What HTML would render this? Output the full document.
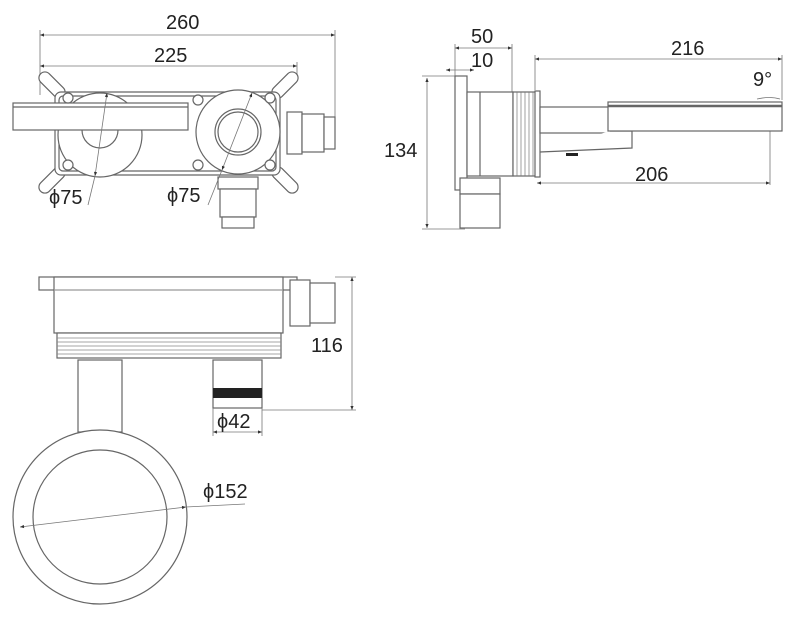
<!DOCTYPE html>
<html><head><style>
html,body{margin:0;padding:0;background:#fff;}
svg{display:block}
text{font-family:"Liberation Sans",sans-serif;font-size:20px;fill:#222;}
</style></head><body>
<svg width="800" height="630" viewBox="0 0 800 630" xmlns="http://www.w3.org/2000/svg">
<defs>
<marker id="a" viewBox="0 0 10 10" refX="10" refY="5" markerWidth="7" markerHeight="5" orient="auto-start-reverse"><path d="M0,1 L10,5 L0,9z" fill="#333"/></marker>
</defs>
<g fill="none" stroke="#777" stroke-width="0.8">
<line x1="40" y1="35" x2="335" y2="35" marker-start="url(#a)" marker-end="url(#a)"/>
<line x1="40" y1="66" x2="297" y2="66" marker-start="url(#a)" marker-end="url(#a)"/>
<line x1="40" y1="30" x2="40" y2="95"/><line x1="335" y1="30" x2="335" y2="145"/><line x1="297" y1="62" x2="297" y2="80"/>
</g>
<g fill="#fff" stroke="#666" stroke-width="1.2">
<g transform="translate(52,85) rotate(45)"><rect x="-16" y="-6" width="32" height="12" rx="6"/></g>
<g transform="translate(52,180) rotate(-45)"><rect x="-16" y="-6" width="32" height="12" rx="6"/></g>
<g transform="translate(285,85) rotate(-45)"><rect x="-16" y="-6" width="32" height="12" rx="6"/></g>
<g transform="translate(285,180) rotate(45)"><rect x="-16" y="-6" width="32" height="12" rx="6"/></g>
<rect x="55" y="92" width="225" height="83" rx="6"/>
<rect x="59" y="96" width="217" height="75" rx="4"/>
<circle cx="100" cy="135" r="42"/>
<path d="M82,130 a18,18 0 0 0 36,0"/>
<rect x="13" y="103" width="175" height="27"/>
<line x1="13" y1="107" x2="188" y2="107"/>
<circle cx="238" cy="132" r="42"/>
<circle cx="238" cy="132" r="23"/><circle cx="238" cy="132" r="20"/>
<circle cx="68" cy="98" r="5"/><circle cx="68" cy="165" r="5"/>
<circle cx="198" cy="100" r="5"/><circle cx="198" cy="165" r="5"/>
<circle cx="270" cy="98" r="5"/><circle cx="270" cy="165" r="5"/>
<rect x="287" y="112" width="15" height="42"/><rect x="302" y="114" width="22" height="38"/><rect x="324" y="117" width="11" height="32"/>
<rect x="218" y="177" width="40" height="12"/><rect x="220" y="189" width="36" height="28"/><rect x="222" y="217" width="32" height="11"/>
</g>
<g stroke="#777" stroke-width="0.8" fill="none">
<line x1="107" y1="93" x2="95" y2="176" marker-start="url(#a)" marker-end="url(#a)"/>
<line x1="95" y1="176" x2="88" y2="205"/>
<line x1="252" y1="93" x2="222" y2="170" marker-start="url(#a)" marker-end="url(#a)"/>
<line x1="222" y1="170" x2="208" y2="205"/>
</g>
<text x="49" y="204">ϕ75</text><text x="167" y="202">ϕ75</text>
<text x="166" y="29">260</text><text x="154" y="62">225</text>

<g fill="none" stroke="#777" stroke-width="0.8">
<line x1="455" y1="48" x2="512" y2="48" marker-start="url(#a)" marker-end="url(#a)"/>
<line x1="446" y1="70" x2="474" y2="70" marker-start="url(#a)" marker-end="url(#a)"/>
<line x1="455" y1="44" x2="455" y2="76"/><line x1="512" y1="44" x2="512" y2="92"/>
<line x1="535" y1="59" x2="782" y2="59" marker-start="url(#a)" marker-end="url(#a)"/>
<line x1="535" y1="55" x2="535" y2="90"/><line x1="782" y1="55" x2="782" y2="100"/>
<line x1="427" y1="78" x2="427" y2="228" marker-start="url(#a)" marker-end="url(#a)"/>
<line x1="422" y1="76" x2="455" y2="76"/><line x1="422" y1="229" x2="465" y2="229"/>
<line x1="537" y1="183" x2="770" y2="183" marker-start="url(#a)" marker-end="url(#a)"/>
<line x1="770" y1="112" x2="770" y2="185"/>
<path d="M757,99 Q770,96 780,99"/>
</g>
<g fill="#fff" stroke="#666" stroke-width="1.2">
<rect x="455" y="76" width="12" height="114"/>
<rect x="467" y="92" width="46" height="84"/>
<line x1="480" y1="92" x2="480" y2="176"/>
<rect x="513" y="92" width="24" height="84"/>
<rect x="535" y="91" width="5" height="86"/>
<rect x="540" y="107" width="70" height="26"/>
<path d="M610,131 L632,131 L632,148 L540,152"/>
<rect x="608" y="102" width="174" height="29"/>
<line x1="608" y1="106" x2="782" y2="106" stroke-width="2.5"/>
<rect x="460" y="178" width="40" height="16"/><rect x="460" y="194" width="40" height="34"/>
</g>
<g stroke="#777" stroke-width="0.7"><line x1="517" y1="92" x2="517" y2="176"/><line x1="521" y1="92" x2="521" y2="176"/><line x1="525" y1="92" x2="525" y2="176"/><line x1="529" y1="92" x2="529" y2="176"/><line x1="533" y1="92" x2="533" y2="176"/></g>
<rect x="566" y="153" width="12" height="3" fill="#222"/>
<text x="471" y="43">50</text><text x="471" y="67">10</text>
<text x="671" y="55">216</text><text x="753" y="86">9°</text>
<text x="384" y="157">134</text><text x="635" y="181">206</text>

<g fill="#fff" stroke="#666" stroke-width="1.2">
<rect x="39" y="277" width="258" height="13"/>
<rect x="54" y="277" width="229" height="56"/>
<line x1="54" y1="290" x2="283" y2="290" stroke="#999"/>
<rect x="57" y="333" width="224" height="25"/>
<rect x="290" y="280" width="20" height="46"/><rect x="310" y="283" width="25" height="40"/>
<rect x="78" y="360" width="44" height="72"/>
<circle cx="100" cy="517" r="87"/>
<circle cx="100" cy="517" r="67"/>
<rect x="213" y="360" width="49" height="48"/>
</g>
<g stroke="#888" stroke-width="0.7"><line x1="57" y1="338" x2="281" y2="338"/><line x1="57" y1="342" x2="281" y2="342"/><line x1="57" y1="346" x2="281" y2="346"/><line x1="57" y1="350" x2="281" y2="350"/><line x1="57" y1="354" x2="281" y2="354"/></g>
<rect x="213" y="388" width="49" height="10" fill="#222"/>
<g fill="none" stroke="#777" stroke-width="0.8">
<line x1="352" y1="277" x2="352" y2="410" marker-start="url(#a)" marker-end="url(#a)"/>
<line x1="335" y1="277" x2="356" y2="277"/><line x1="262" y1="410" x2="356" y2="410"/>
<line x1="213" y1="432" x2="262" y2="432" marker-start="url(#a)" marker-end="url(#a)"/>
<line x1="213" y1="408" x2="213" y2="436"/><line x1="262" y1="408" x2="262" y2="436"/>
<line x1="20" y1="527" x2="186" y2="507" marker-start="url(#a)" marker-end="url(#a)"/>
<line x1="186" y1="507" x2="245" y2="504"/>
</g>
<text x="311" y="352">116</text><text x="217" y="428">ϕ42</text><text x="203" y="498">ϕ152</text>
</svg>
</body></html>
